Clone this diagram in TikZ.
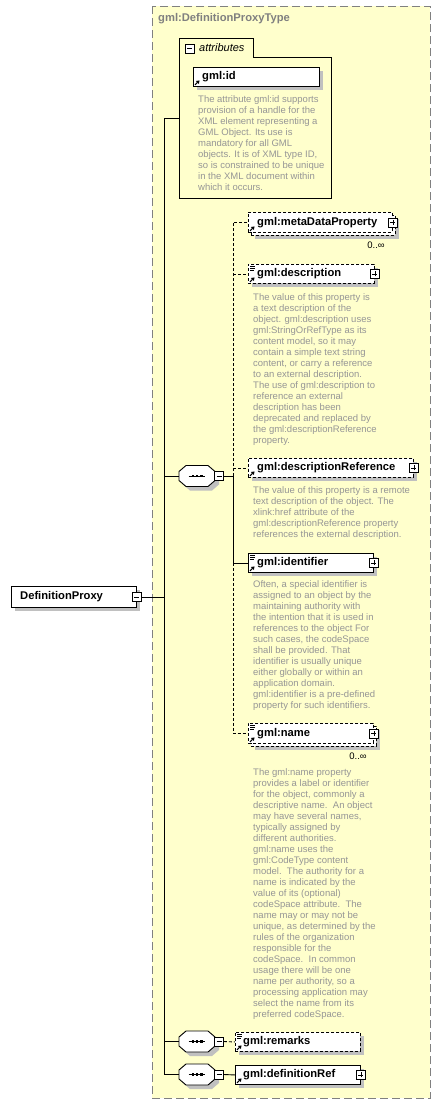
\documentclass[tikz,border=0pt]{standalone}
\usepackage{fontspec}
\setmainfont{Liberation Sans}
\usetikzlibrary{shadows,arrows.meta}
\definecolor{bgyellow}{RGB}{255,255,204}
\definecolor{desccol}{RGB}{150,150,150}
\definecolor{shadowcol}{RGB}{192,192,192}
\definecolor{framecol}{RGB}{128,128,128}
\tikzset{
  lbl/.style={font=\fontsize{11.2}{13}\selectfont\bfseries, anchor=west, inner sep=0},
  typetitle/.style={font=\fontsize{11.2}{13}\selectfont\bfseries, text=framecol, anchor=west, inner sep=0},
  desctext/.style={font=\fontsize{9.5}{11}\selectfont, text=desccol, align=left, anchor=north west, inner sep=0},
  mult/.style={font=\fontsize{9.5}{11}\selectfont, inner sep=0},
  shad/.style={drop shadow={shadow xshift=4pt, shadow yshift=-4pt, fill=shadowcol, opacity=1}},
  elembox/.style={draw, fill=white, anchor=north west, inner sep=0, minimum height=19, line width=0.9pt},
  elem/.style={elembox, shad},
  optelem/.style={elem, dash pattern=on 3pt off 2pt},
  optfront/.style={elembox, dash pattern=on 3pt off 2pt},
  conn/.style={line width=0.9pt},
  dconn/.style={line width=0.9pt, dash pattern=on 3pt off 2pt},
  pmbox/.style={draw, fill=white, minimum size=9, inner sep=0, line width=0.7pt},
  minusbox/.style={pmbox, path picture={\draw[line width=0.7pt] ([xshift=2pt]path picture bounding box.west) -- ([xshift=-2pt]path picture bounding box.east);}},
  plusbox/.style={pmbox, path picture={\draw[line width=0.7pt] ([xshift=2pt]path picture bounding box.west) -- ([xshift=-2pt]path picture bounding box.east) ([yshift=2pt]path picture bounding box.south) -- ([yshift=-2pt]path picture bounding box.north);}},
  seqnode/.style={rectangle, minimum width=36, minimum height=21, inner sep=0},
  seqshape/.pic={
    \fill[shadowcol] (-14,-0.5) -- (-7,-6.5) -- (15,-6.5) -- (22,-0.5) -- (22,8.5) -- (15,14.5) -- (-7,14.5) -- (-14,8.5) -- cycle;
    \draw[fill=white, line width=0.9pt] (-18,-4.5) -- (-11,-10.5) -- (11,-10.5) -- (18,-4.5) -- (18,4.5) -- (11,10.5) -- (-11,10.5) -- (-18,4.5) -- cycle;
    \draw[line width=0.9pt] (-8.5,0) -- (7.5,0);
    \fill (-5.5,-1.4) rectangle ++(2.8,2.8);
    \fill (-1.4,-1.4) rectangle ++(2.8,2.8);
    \fill (2.7,-1.4) rectangle ++(2.8,2.8);},
  refarrow/.pic={\draw[line width=1.1pt,-{Triangle[length=3pt,width=4pt]}] (0,0) -- (4.5,-4.5);},
  texticon/.pic={\draw[line width=0.6pt] (0,0) -- (5,0) (0,2) -- (5,2) (0,4) -- (4,4);}
}
\begin{document}
\begin{tikzpicture}[x=1pt,y=-1pt]
\useasboundingbox (0,0) rectangle (441,1106);
\fill[white] (0,0) rectangle (441,1106);
% complex type frame
\draw[framecol, fill=bgyellow, line width=1pt, dash pattern=on 8pt off 4pt] (152,6) rectangle (430,1098);
\node[typetitle] (title) at (158,19) {gml:DefinitionProxyType};
% attributes group
\draw[line width=0.9pt] (179,198) -- (179,38) -- (253,38) -- (253,57) -- (331,57) -- (331,198) -- cycle;
\node[minusbox] (attrminus) at (189.5,48.5) {};
\node[font=\fontsize{11}{13}\selectfont\itshape, anchor=west, inner sep=0] (attrlbl) at (199,47.5) {attributes};
\coordinate (attrs) at (179,118);
\node[elem, minimum width=126] (gmlid) at (193,67) {};
\pic at ([shift={(2,-2)}]gmlid.south west) {refarrow};
\node[lbl] at ([xshift=9pt]gmlid.west) {gml:id};
\node[desctext] (iddoc) at (198,95) {The attribute gml:id supports\\provision of a handle for the\\XML element representing a\\GML Object. Its use is\\mandatory for all GML\\objects. It is of XML type ID,\\so is constrained to be unique\\in the XML document within\\which it occurs.};
% root element
\node[elem, minimum width=125, minimum height=21] (dp) at (11,586) {};
\node[lbl] at ([xshift=9pt]dp.west) {DefinitionProxy};
\node[minusbox] (dpminus) at (dp.east) {};
% spine
\coordinate (spinetop) at (164,118);
\coordinate (spinebot) at (164,1074.5);
\draw[conn] (attrs) -- (spinetop) -- (spinebot);
\draw[conn] (dpminus.east) -- (dpminus.east -| spinetop);
% sequence 1
\node[seqnode] (seq1) at (197,476) {};
\pic at (seq1.center) {seqshape};
\node[minusbox] (m1) at (219,476) {};
\draw[conn] (seq1.west -| spinetop) -- (seq1.west);
\coordinate (bus) at (233,476);
\draw[conn] (m1.east) -- (bus);
% metaDataProperty
\node[optelem, minimum width=144, minimum height=20] (mdpback) at (251,215) {};
\node[optfront, minimum width=144, minimum height=20] (mdp) at (248,212) {};
\pic at ([shift={(2,-2)}]mdp.south west) {refarrow};
\node[lbl] at ([xshift=9pt]mdp.west) {gml:metaDataProperty};
\node[plusbox] (mdpplus) at (mdp.east) {};
\node[mult] (mdpmult) at (376,245) {0..∞};
% description
\node[optelem, minimum width=126] (desc) at (248,264) {};
\pic at ([shift={(2,-2)}]desc.south west) {refarrow};
\pic at ([shift={(2,2)}]desc.north west) {texticon};
\node[lbl] at ([xshift=9pt]desc.west) {gml:description};
\node[plusbox] (descplus) at (desc.east) {};
\node[desctext] (descdoc) at (253,293) {The value of this property is\\a text description of the\\object. gml:description uses\\gml:StringOrRefType as its\\content model, so it may\\contain a simple text string\\content, or carry a reference\\to an external description.\\The use of gml:description to\\reference an external\\description has been\\deprecated and replaced by\\the gml:descriptionReference\\property.};
% descriptionReference
\node[optelem, minimum width=165] (dref) at (248,458) {};
\pic at ([shift={(2,-2)}]dref.south west) {refarrow};
\node[lbl] at ([xshift=9pt]dref.west) {gml:descriptionReference};
\node[plusbox] (drefplus) at (dref.east) {};
\node[desctext] (drefdoc) at (253,486) {The value of this property is a remote\\text description of the object. The\\xlink:href attribute of the\\gml:descriptionReference property\\references the external description.};
% identifier
\node[elem, minimum width=125] (ident) at (248,553) {};
\pic at ([shift={(2,-2)}]ident.south west) {refarrow};
\pic at ([shift={(2,2)}]ident.north west) {texticon};
\node[lbl] at ([xshift=9pt]ident.west) {gml:identifier};
\node[plusbox] (identplus) at (ident.east) {};
\node[desctext] (identdoc) at (253,580) {Often, a special identifier is\\assigned to an object by the\\maintaining authority with\\the intention that it is used in\\references to the object For\\such cases, the codeSpace\\shall be provided. That\\identifier is usually unique\\either globally or within an\\application domain.\\gml:identifier is a pre-defined\\property for such identifiers.};
% name
\node[optelem, minimum width=125, minimum height=20] (nameback) at (251,726) {};
\node[optfront, minimum width=125, minimum height=20] (name) at (248,723) {};
\pic at ([shift={(2,-2)}]name.south west) {refarrow};
\pic at ([shift={(2,2)}]name.north west) {texticon};
\node[lbl] at ([xshift=9pt]name.west) {gml:name};
\node[plusbox] (nameplus) at (name.east) {};
\node[mult] (namemult) at (358,756) {0..∞};
\node[desctext] (namedoc) at (253,768) {The gml:name property\\provides a label or identifier\\for the object, commonly a\\descriptive name.\ \ An object\\may have several names,\\typically assigned by\\different authorities.\\gml:name uses the\\gml:CodeType content\\model.\ \ The authority for a\\name is indicated by the\\value of its (optional)\\codeSpace attribute.\ \ The\\name may or may not be\\unique, as determined by the\\rules of the organization\\responsible for the\\codeSpace.\ \ In common\\usage there will be one\\name per authority, so a\\processing application may\\select the name from its\\preferred codeSpace.};
% sequence 1 connectors
\draw[dconn] (bus) -- (bus |- mdp.west) -- (mdp.west);
\draw[dconn] (bus |- desc.west) -- (desc.west);
\draw[dconn] (bus |- dref.west) -- (dref.west);
\draw[conn] (bus) -- (bus |- ident.west) -- (ident.west);
\draw[dconn] (bus |- ident.west) -- (bus |- name.west) -- (name.west);
% sequence 2 : remarks
\node[seqnode] (seq2) at (197,1041.5) {};
\pic at (seq2.center) {seqshape};
\node[minusbox] (m2) at (219,1041.5) {};
\draw[conn] (seq2.west -| spinetop) -- (seq2.west);
\node[optelem, minimum width=125] (remarks) at (235,1032) {};
\pic at ([shift={(2,-2)}]remarks.south west) {refarrow};
\pic at ([shift={(2,2)}]remarks.north west) {texticon};
\node[lbl] at ([xshift=8pt]remarks.west) {gml:remarks};
\draw[dconn] (m2.east) -- (remarks.west);
% sequence 3 : definitionRef
\node[seqnode] (seq3) at (197,1074.5) {};
\pic at (seq3.center) {seqshape};
\node[minusbox] (m3) at (219,1074.5) {};
\draw[conn] (spinebot) -- (seq3.west);
\node[elem, minimum width=125] (defref) at (235,1065) {};
\pic at ([shift={(2,-2)}]defref.south west) {refarrow};
\node[lbl] at ([xshift=8pt]defref.west) {gml:definitionRef};
\node[plusbox] (defrefplus) at (defref.east) {};
\draw[conn] (m3.east) -- (defref.west);
\end{tikzpicture}
\end{document}
